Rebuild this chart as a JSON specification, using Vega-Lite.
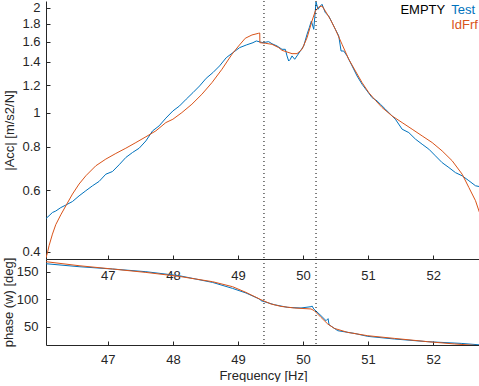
{
  "$schema": "https://vega.github.io/schema/vega-lite/v6.json",
  "background": "white",
  "padding": {"left": 2, "top": 0, "right": 0, "bottom": 0},
  "spacing": 0,
  "bounds": "flush",
  "datasets": {
    "magTest": [
      {"f": 46.05, "v": 0.498}, {"f": 46.097, "v": 0.507}, {"f": 46.149, "v": 0.518}, {"f": 46.2, "v": 0.523},
      {"f": 46.277, "v": 0.535}, {"f": 46.354, "v": 0.544}, {"f": 46.457, "v": 0.557}, {"f": 46.558, "v": 0.578},
      {"f": 46.662, "v": 0.598}, {"f": 46.765, "v": 0.618}, {"f": 46.866, "v": 0.636}, {"f": 46.969, "v": 0.667},
      {"f": 47.072, "v": 0.679}, {"f": 47.174, "v": 0.71}, {"f": 47.277, "v": 0.745}, {"f": 47.38, "v": 0.77},
      {"f": 47.482, "v": 0.792}, {"f": 47.585, "v": 0.831}, {"f": 47.688, "v": 0.888}, {"f": 47.789, "v": 0.918},
      {"f": 47.892, "v": 0.966}, {"f": 48.0, "v": 1.013}, {"f": 48.102, "v": 1.047}, {"f": 48.205, "v": 1.095},
      {"f": 48.308, "v": 1.143}, {"f": 48.411, "v": 1.195}, {"f": 48.512, "v": 1.257}, {"f": 48.615, "v": 1.305},
      {"f": 48.718, "v": 1.364}, {"f": 48.82, "v": 1.44}, {"f": 48.923, "v": 1.489}, {"f": 49.026, "v": 1.539},
      {"f": 49.128, "v": 1.566}, {"f": 49.231, "v": 1.59}, {"f": 49.282, "v": 1.608}, {"f": 49.385, "v": 1.59},
      {"f": 49.472, "v": 1.601}, {"f": 49.523, "v": 1.579}, {"f": 49.6, "v": 1.556}, {"f": 49.677, "v": 1.522},
      {"f": 49.728, "v": 1.522}, {"f": 49.754, "v": 1.457}, {"f": 49.78, "v": 1.409}, {"f": 49.805, "v": 1.425},
      {"f": 49.831, "v": 1.457}, {"f": 49.872, "v": 1.425}, {"f": 49.908, "v": 1.457}, {"f": 49.958, "v": 1.505},
      {"f": 50.011, "v": 1.556}, {"f": 50.062, "v": 1.681}, {"f": 50.097, "v": 1.756}, {"f": 50.128, "v": 1.835},
      {"f": 50.165, "v": 1.737}, {"f": 50.18, "v": 1.876}, {"f": 50.2, "v": 2.08}, {"f": 50.231, "v": 1.982},
      {"f": 50.266, "v": 2.026}, {"f": 50.292, "v": 2.049}, {"f": 50.343, "v": 1.938}, {"f": 50.395, "v": 1.896},
      {"f": 50.446, "v": 1.815}, {"f": 50.497, "v": 1.737}, {"f": 50.549, "v": 1.663}, {"f": 50.585, "v": 1.505},
      {"f": 50.626, "v": 1.505}, {"f": 50.677, "v": 1.457}, {"f": 50.754, "v": 1.364}, {"f": 50.831, "v": 1.276},
      {"f": 50.908, "v": 1.208}, {"f": 50.985, "v": 1.156}, {"f": 51.062, "v": 1.106}, {"f": 51.138, "v": 1.082},
      {"f": 51.189, "v": 1.059}, {"f": 51.266, "v": 1.025}, {"f": 51.343, "v": 0.991}, {"f": 51.42, "v": 0.959},
      {"f": 51.523, "v": 0.898}, {"f": 51.626, "v": 0.878}, {"f": 51.728, "v": 0.841}, {"f": 51.831, "v": 0.813},
      {"f": 51.934, "v": 0.787}, {"f": 52.035, "v": 0.753}, {"f": 52.138, "v": 0.72}, {"f": 52.242, "v": 0.697},
      {"f": 52.343, "v": 0.674}, {"f": 52.446, "v": 0.66}, {"f": 52.549, "v": 0.639}, {"f": 52.651, "v": 0.618},
      {"f": 52.723, "v": 0.614}
    ],
    "magFit": [
      {"f": 46.05, "v": 0.384}, {"f": 46.072, "v": 0.397}, {"f": 46.097, "v": 0.416}, {"f": 46.149, "v": 0.449},
      {"f": 46.2, "v": 0.478}, {"f": 46.277, "v": 0.51}, {"f": 46.354, "v": 0.541}, {"f": 46.457, "v": 0.585},
      {"f": 46.558, "v": 0.625}, {"f": 46.662, "v": 0.66}, {"f": 46.815, "v": 0.705}, {"f": 46.969, "v": 0.737},
      {"f": 47.123, "v": 0.765}, {"f": 47.277, "v": 0.792}, {"f": 47.431, "v": 0.822}, {"f": 47.585, "v": 0.854},
      {"f": 47.738, "v": 0.888}, {"f": 47.892, "v": 0.938}, {"f": 48.0, "v": 0.959}, {"f": 48.138, "v": 1.002},
      {"f": 48.292, "v": 1.059}, {"f": 48.446, "v": 1.131}, {"f": 48.6, "v": 1.221}, {"f": 48.754, "v": 1.334},
      {"f": 48.908, "v": 1.473}, {"f": 49.011, "v": 1.556}, {"f": 49.112, "v": 1.637}, {"f": 49.215, "v": 1.673},
      {"f": 49.318, "v": 1.692}, {"f": 49.335, "v": 1.695}, {"f": 49.337, "v": 1.59}, {"f": 49.42, "v": 1.584},
      {"f": 49.523, "v": 1.573}, {"f": 49.626, "v": 1.539}, {"f": 49.677, "v": 1.512}, {"f": 49.831, "v": 1.479},
      {"f": 49.908, "v": 1.479}, {"f": 49.985, "v": 1.522}, {"f": 50.062, "v": 1.643}, {"f": 50.138, "v": 1.835},
      {"f": 50.189, "v": 1.96}, {"f": 50.241, "v": 2.012}, {"f": 50.292, "v": 2.026}, {"f": 50.343, "v": 1.96},
      {"f": 50.42, "v": 1.855}, {"f": 50.497, "v": 1.737}, {"f": 50.6, "v": 1.573}, {"f": 50.703, "v": 1.425},
      {"f": 50.805, "v": 1.319}, {"f": 50.908, "v": 1.221}, {"f": 51.011, "v": 1.143}, {"f": 51.112, "v": 1.087},
      {"f": 51.215, "v": 1.036}, {"f": 51.369, "v": 0.98}, {"f": 51.523, "v": 0.938}, {"f": 51.677, "v": 0.898},
      {"f": 51.831, "v": 0.859}, {"f": 51.985, "v": 0.822}, {"f": 52.138, "v": 0.778}, {"f": 52.292, "v": 0.729},
      {"f": 52.446, "v": 0.667}, {"f": 52.549, "v": 0.611}, {"f": 52.651, "v": 0.56}, {"f": 52.712, "v": 0.518}
    ],
    "phTest": [
      {"f": 46.05, "p": 164.5}, {"f": 46.558, "p": 159.1}, {"f": 47.072, "p": 154.9}, {"f": 47.585, "p": 150},
      {"f": 48.097, "p": 142.7}, {"f": 48.611, "p": 130.5}, {"f": 48.918, "p": 119.6}, {"f": 49.123, "p": 111.3},
      {"f": 49.328, "p": 100.4}, {"f": 49.354, "p": 97.3}, {"f": 49.558, "p": 90}, {"f": 49.765, "p": 85.1},
      {"f": 49.969, "p": 84}, {"f": 50.123, "p": 86.4}, {"f": 50.14, "p": 87.5}, {"f": 50.165, "p": 82.2},
      {"f": 50.277, "p": 70}, {"f": 50.354, "p": 60.9}, {"f": 50.385, "p": 64.6}, {"f": 50.4, "p": 53.6},
      {"f": 50.534, "p": 42.7}, {"f": 50.789, "p": 37.8}, {"f": 50.995, "p": 32.4}, {"f": 51.405, "p": 27.6},
      {"f": 51.918, "p": 22.7}, {"f": 52.431, "p": 19.6}, {"f": 52.72, "p": 16.9}
    ],
    "phFit": [
      {"f": 46.05, "p": 168.2}, {"f": 46.558, "p": 160.9}, {"f": 47.072, "p": 154.9}, {"f": 47.585, "p": 148.7},
      {"f": 48.097, "p": 141.5}, {"f": 48.611, "p": 131.8}, {"f": 48.918, "p": 122.7}, {"f": 49.123, "p": 112.4},
      {"f": 49.354, "p": 99.1}, {"f": 49.508, "p": 91.3}, {"f": 49.662, "p": 86.9}, {"f": 49.866, "p": 84},
      {"f": 50.123, "p": 82.2}, {"f": 50.174, "p": 79.1}, {"f": 50.277, "p": 66.9}, {"f": 50.38, "p": 54.9},
      {"f": 50.482, "p": 46.9}, {"f": 50.688, "p": 39.6}, {"f": 50.995, "p": 33.6}, {"f": 51.405, "p": 28.7},
      {"f": 51.918, "p": 22.7}, {"f": 52.328, "p": 18.6}, {"f": 52.712, "p": 15.5}
    ],
    "markers": [{"f": 49.4}, {"f": 50.2}],
    "one": [{"n": 1}]
  },
  "vconcat": [
    {
      "width": 434,
      "height": 258,
      "layer": [
        {
          "data": {"name": "magTest"},
          "mark": {"type": "line", "color": "#0072BD", "strokeWidth": 1, "clip": true},
          "encoding": {
            "x": {"field": "f", "type": "quantitative", "scale": {"domain": [46.05, 52.72], "nice": false, "zero": false},
                  "axis": {"values": [47, 48, 49, 50, 51, 52], "format": "d", "title": null, "labelPadding": 14, "tickSize": -4}},
            "y": {"field": "v", "type": "quantitative", "scale": {"type": "log", "domain": [0.381, 2.094], "nice": false},
                  "axis": {"values": [0.4, 0.6, 0.8, 1, 1.2, 1.4, 1.6, 1.8, 2], "format": "~g", "labelOverlap": false,
                           "title": "|Acc| [m/s2/N]", "labelPadding": 10, "titlePadding": 5, "tickSize": -4}}
          }
        },
        {
          "data": {"name": "magFit"},
          "mark": {"type": "line", "color": "#D95319", "strokeWidth": 1, "clip": true},
          "encoding": {
            "x": {"field": "f", "type": "quantitative"},
            "y": {"field": "v", "type": "quantitative"}
          }
        },
        {
          "data": {"name": "markers"},
          "mark": {"type": "rule", "color": "black", "strokeWidth": 1, "strokeDash": [1, 3]},
          "encoding": {"x": {"field": "f", "type": "quantitative"}}
        },
        {
          "data": {"name": "one"},
          "mark": {"type": "text", "text": "EMPTY", "align": "right", "baseline": "alphabetic", "color": "black", "font": "Liberation Sans", "fontSize": 13},
          "encoding": {"x": {"datum": 52.185, "type": "quantitative"}, "y": {"datum": 1.92, "type": "quantitative"}}
        },
        {
          "data": {"name": "one"},
          "mark": {"type": "text", "text": "Test", "align": "left", "baseline": "alphabetic", "color": "#0072BD", "font": "Liberation Sans", "fontSize": 13},
          "encoding": {"x": {"datum": 52.277, "type": "quantitative"}, "y": {"datum": 1.92, "type": "quantitative"}}
        },
        {
          "data": {"name": "one"},
          "mark": {"type": "text", "text": "IdFrf", "align": "left", "baseline": "alphabetic", "color": "#D95319", "font": "Liberation Sans", "fontSize": 13},
          "encoding": {"x": {"datum": 52.277, "type": "quantitative"}, "y": {"datum": 1.744, "type": "quantitative"}}
        }
      ]
    },
    {
      "width": 434,
      "height": 86,
      "layer": [
        {
          "data": {"name": "phTest"},
          "mark": {"type": "line", "color": "#0072BD", "strokeWidth": 1, "clip": true},
          "encoding": {
            "x": {"field": "f", "type": "quantitative", "scale": {"domain": [46.05, 52.72], "nice": false, "zero": false},
                  "axis": {"values": [47, 48, 49, 50, 51, 52], "format": "d", "title": "Frequency [Hz]", "labelPadding": 12, "titlePadding": 3, "tickSize": -4}},
            "y": {"field": "p", "type": "quantitative", "scale": {"domain": [16.7, 173.1], "nice": false, "zero": false},
                  "axis": {"values": [50, 100, 150], "title": "phase (w) [deg]", "labelPadding": 12, "titlePadding": 1, "tickSize": -4}}
          }
        },
        {
          "data": {"name": "phFit"},
          "mark": {"type": "line", "color": "#D95319", "strokeWidth": 1, "clip": true},
          "encoding": {
            "x": {"field": "f", "type": "quantitative"},
            "y": {"field": "p", "type": "quantitative"}
          }
        },
        {
          "data": {"name": "markers"},
          "mark": {"type": "rule", "color": "black", "strokeWidth": 1, "strokeDash": [1, 3]},
          "encoding": {"x": {"field": "f", "type": "quantitative"}}
        }
      ]
    }
  ],
  "config": {
    "view": {"stroke": null},
    "axis": {
      "labelFont": "Liberation Sans", "labelFontSize": 13, "labelColor": "#262626",
      "titleFont": "Liberation Sans", "titleFontSize": 13, "titleFontWeight": "normal", "titleColor": "#262626",
      "domainColor": "#262626", "tickColor": "#262626", "grid": false, "labelFlush": false
    }
  }
}
